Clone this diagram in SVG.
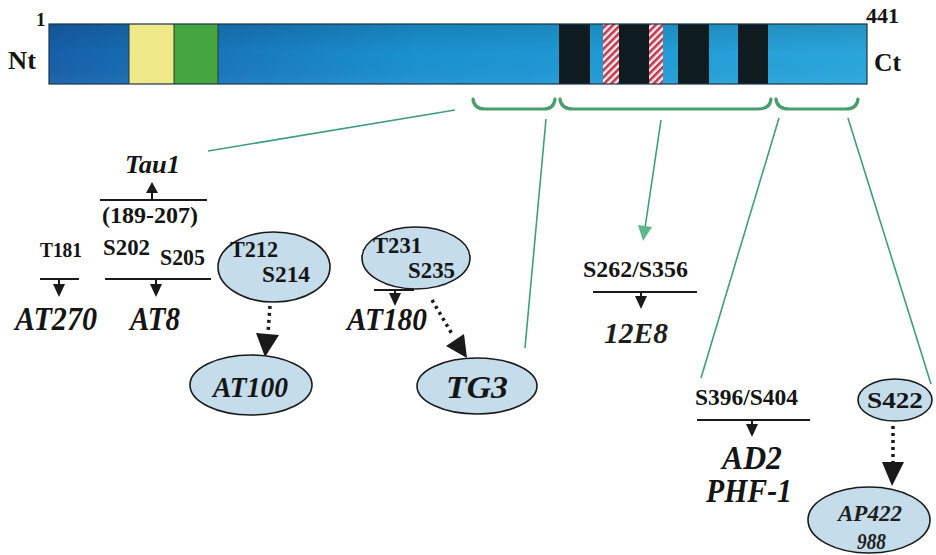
<svg xmlns="http://www.w3.org/2000/svg" width="936" height="555" viewBox="0 0 936 555">
<style>
.lbl{font-family:'Liberation Serif','Tinos','DejaVu Serif',serif;font-weight:700;fill:#151515}
.ab{font-family:'Liberation Serif','Tinos','DejaVu Serif',serif;font-weight:700;font-style:italic;fill:#151515}
.abn{font-family:'Liberation Serif','Tinos','DejaVu Serif',serif;font-weight:700;font-style:italic;fill:#1e1e1e}
.node{fill:#c5dcea;stroke:#1a1a1a;stroke-width:1.6}
.bk{stroke:#1a1a1a;stroke-width:2;fill:none}
.tri{fill:#1a1a1a}
.dot{stroke:#1a1a1a;stroke-width:3.5;stroke-dasharray:3 4;fill:none}
.gl{stroke:#3f9d7c;stroke-width:1.6;fill:none}
.br{stroke:#4a9e6e;stroke-width:3.2;fill:none;stroke-linecap:round}
.band{fill:#0f1c1f}
</style>
<defs>
<linearGradient id="barg" x1="0" y1="0" x2="1" y2="0">
<stop offset="0" stop-color="#1660aa"/>
<stop offset="0.45" stop-color="#1a92d0"/>
<stop offset="1" stop-color="#2aa6dc"/>
</linearGradient>
<linearGradient id="shade" x1="0" y1="0" x2="0" y2="1">
<stop offset="0" stop-color="#000" stop-opacity="0.12"/>
<stop offset="0.5" stop-color="#000" stop-opacity="0"/>
<stop offset="1" stop-color="#fff" stop-opacity="0.05"/>
</linearGradient>
<pattern id="hatch" width="5" height="5" patternUnits="userSpaceOnUse" patternTransform="rotate(45)">
<rect width="5" height="5" fill="#f6eef0"/>
<rect width="2.6" height="5" fill="#c4374f"/>
</pattern>
</defs>

<g id="protein-bar">
<rect x="49" y="24" width="818" height="60" fill="url(#barg)"/>
<rect x="49" y="24" width="818" height="60" fill="url(#shade)"/>
<rect x="129" y="24" width="45" height="60" fill="#f0e98a"/>
<rect x="174" y="24" width="44" height="60" fill="#45a63f"/>
<line x1="129" y1="24" x2="129" y2="84" stroke="#2a3a2a" stroke-width="1"/>
<line x1="174" y1="24" x2="174" y2="84" stroke="#2a3a2a" stroke-width="1"/>
<line x1="218" y1="24" x2="218" y2="84" stroke="#2a3a2a" stroke-width="1"/>
<rect class="band" x="559" y="24" width="31" height="60"/>
<rect x="603" y="24" width="16" height="60" fill="url(#hatch)"/>
<rect class="band" x="619" y="24" width="30" height="60"/>
<rect x="649" y="24" width="14" height="60" fill="url(#hatch)"/>
<rect class="band" x="678" y="24" width="31" height="60"/>
<rect class="band" x="738" y="24" width="30" height="60"/>
<rect x="49" y="24" width="818" height="60" fill="none" stroke="#1c3548" stroke-width="1.2"/>
<text class="lbl" x="36" y="26" font-size="19">1</text>
<text class="lbl" x="8" y="69" font-size="26" textLength="28" lengthAdjust="spacingAndGlyphs">Nt</text>
<text class="lbl" x="866" y="23" font-size="21" textLength="33" lengthAdjust="spacingAndGlyphs">441</text>
<text class="lbl" x="874" y="71" font-size="26" textLength="27" lengthAdjust="spacingAndGlyphs">Ct</text>
</g>

<g id="connectors">
<path class="br" d="M473,99 Q474,109 485,109 L544,109 Q554,109 555,99"/>
<path class="br" d="M560,99 Q561,109 573,109 L758,109 Q770,109 771,99"/>
<path class="br" d="M776,99 Q777,109 789,109 L846,109 Q857,109 858,99"/>
<line class="gl" x1="455" y1="110" x2="208" y2="151"/>
<line class="gl" x1="546" y1="119" x2="525" y2="348"/>
<line class="gl" x1="661" y1="120" x2="645" y2="228"/>
<polygon points="638,225 652,227 643,241" fill="#5cb88c"/>
<line class="gl" x1="779" y1="118" x2="701" y2="378"/>
<line class="gl" x1="848" y1="118" x2="931" y2="384"/>

<line class="bk" x1="100" y1="200" x2="207" y2="200"/>
<line class="bk" x1="152" y1="200" x2="152" y2="192"/>
<polygon class="tri" points="146,193 158,193 152,182"/>

<line class="bk" x1="40" y1="279" x2="79" y2="279"/>
<line class="bk" x1="59" y1="279" x2="59" y2="285"/>
<polygon class="tri" points="53,284 65,284 59,297"/>
<line class="bk" x1="105" y1="279" x2="211" y2="279"/>
<line class="bk" x1="156" y1="279" x2="156" y2="285"/>
<polygon class="tri" points="150,284 162,284 156,297"/>

<line class="bk" x1="374" y1="290" x2="414" y2="290"/>
<line class="bk" x1="395" y1="290" x2="395" y2="294"/>
<polygon class="tri" points="389,293 401,293 395,306"/>

<line class="bk" x1="593" y1="292" x2="697" y2="292"/>
<line class="bk" x1="641" y1="292" x2="641" y2="297"/>
<polygon class="tri" points="635,296 647,296 641,309"/>

<line class="bk" x1="697" y1="420" x2="810" y2="420"/>
<line class="bk" x1="752" y1="420" x2="752" y2="425"/>
<polygon class="tri" points="746,424 758,424 752,437"/>

<line class="dot" x1="270" y1="306" x2="268" y2="333"/>
<polygon class="tri" points="256,333 279,335 265,357"/>
<line class="dot" x1="432" y1="300" x2="452" y2="334"/>
<polygon class="tri" points="446,346 464,334 467,358"/>
<line class="dot" x1="893" y1="426" x2="893" y2="462"/>
<polygon class="tri" points="882,462 904,462 892,486"/>
</g>

<g id="tau1">
<text class="ab" x="125" y="173" font-size="26" textLength="55" lengthAdjust="spacingAndGlyphs">Tau1</text>
<text class="lbl" x="102" y="223" font-size="23" textLength="96" lengthAdjust="spacingAndGlyphs">(189-207)</text>
</g>

<g id="t181">
<text class="lbl" x="40" y="257" font-size="22" textLength="42" lengthAdjust="spacingAndGlyphs">T181</text>
<text class="ab" x="15" y="330" font-size="33" textLength="82" lengthAdjust="spacingAndGlyphs">AT270</text>
</g>

<g id="s202-s205">
<text class="lbl" x="103" y="255" font-size="23" textLength="47" lengthAdjust="spacingAndGlyphs">S202</text>
<text class="lbl" x="160" y="265" font-size="23" textLength="45" lengthAdjust="spacingAndGlyphs">S205</text>
<text class="ab" x="130" y="330" font-size="33" textLength="50" lengthAdjust="spacingAndGlyphs">AT8</text>
</g>

<g id="t212-s214">
<ellipse class="node" cx="274" cy="267" rx="56" ry="35"/>
<text class="lbl" x="230" y="257" font-size="23" textLength="48" lengthAdjust="spacingAndGlyphs">T212</text>
<text class="lbl" x="262" y="282" font-size="23" textLength="48" lengthAdjust="spacingAndGlyphs">S214</text>
</g>

<g id="at100">
<ellipse class="node" cx="251" cy="385" rx="61" ry="30"/>
<text class="ab" x="213" y="397" font-size="30" textLength="75" lengthAdjust="spacingAndGlyphs">AT100</text>
</g>

<g id="t231-s235">
<ellipse class="node" cx="416" cy="258" rx="54" ry="31"/>
<text class="lbl" x="373" y="253" font-size="23" textLength="49" lengthAdjust="spacingAndGlyphs">T231</text>
<text class="lbl" x="408" y="278" font-size="23" textLength="47" lengthAdjust="spacingAndGlyphs">S235</text>
</g>

<g id="at180">
<text class="ab" x="347" y="330" font-size="32" textLength="80" lengthAdjust="spacingAndGlyphs">AT180</text>
</g>

<g id="tg3">
<ellipse class="node" cx="477" cy="386" rx="60" ry="28"/>
<text class="ab" x="446" y="398" font-size="32" textLength="62" lengthAdjust="spacingAndGlyphs">TG3</text>
</g>

<g id="s262-s356">
<text class="lbl" x="583" y="277" font-size="24" textLength="105" lengthAdjust="spacingAndGlyphs">S262/S356</text>
<text class="abn" x="604" y="343" font-size="30" textLength="64" lengthAdjust="spacingAndGlyphs">12E8</text>
</g>

<g id="s396-s404">
<text class="lbl" x="695" y="405" font-size="24" textLength="103" lengthAdjust="spacingAndGlyphs">S396/S404</text>
<text class="ab" x="722" y="469" font-size="33" textLength="60" lengthAdjust="spacingAndGlyphs">AD2</text>
<text class="ab" x="706" y="502" font-size="33" textLength="86" lengthAdjust="spacingAndGlyphs">PHF-1</text>
</g>

<g id="s422">
<ellipse class="node" cx="895" cy="400" rx="37" ry="21"/>
<text class="lbl" x="867" y="408" font-size="24" textLength="56" lengthAdjust="spacingAndGlyphs">S422</text>
</g>

<g id="ap422">
<ellipse class="node" cx="869" cy="520" rx="61" ry="33"/>
<text class="abn" x="838" y="521" font-size="24" textLength="64" lengthAdjust="spacingAndGlyphs">AP422</text>
<text class="abn" x="857" y="549" font-size="24" textLength="29" lengthAdjust="spacingAndGlyphs">988</text>
</g>
</svg>
